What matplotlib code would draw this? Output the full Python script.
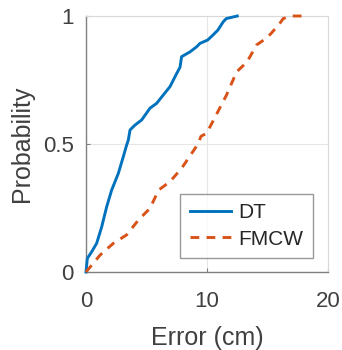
import matplotlib
matplotlib.use("Agg")
import matplotlib.pyplot as plt

dt_x = [0, 0.11, 0.47, 0.88, 1.3, 1.71, 2.12, 2.67, 3.08, 3.36, 3.5, 3.64, 4.05, 4.6, 5.29,
        5.84, 6.53, 6.94, 7.5, 7.77, 7.9, 8.6, 9.15, 9.42, 10.05, 10.5, 10.9, 11.35, 11.6, 12.5]
dt_y = [0, 0.053, 0.079, 0.112, 0.177, 0.255, 0.32, 0.385, 0.45, 0.496, 0.516, 0.555, 0.574,
        0.594, 0.64, 0.659, 0.70, 0.724, 0.776, 0.80, 0.841, 0.86, 0.88, 0.893, 0.906, 0.926,
        0.945, 0.978, 0.99, 1.0]

fm_x = [0, 1.16, 2.26, 3.36, 4.33, 5.29, 6.0, 6.94, 7.9, 8.73, 9.28, 9.5, 9.97, 10.5, 11.6,
        12.45, 13.3, 14.1, 14.9, 15.3, 16.0, 16.3, 17.0, 18.0]
fm_y = [0, 0.066, 0.112, 0.145, 0.203, 0.249, 0.32, 0.353, 0.405, 0.463, 0.502, 0.53, 0.542,
        0.59, 0.69, 0.782, 0.82, 0.887, 0.913, 0.932, 0.97, 0.99, 1.0, 1.0]

x_ticks = [0, 10, 20]
y_ticks = [0, 0.5, 1]
y_tick_labels = ["0", "0.5", "1"]

plt.rcParams['font.family'] = ['Liberation Sans', 'DejaVu Sans']

fig = plt.figure(figsize=(3.42, 3.5), dpi=100)
ax = fig.add_axes([86/342, 78/350, 242/342, 256/350])

ax.plot(dt_x, dt_y, color='#0072BD', lw=2.1, label='DT', clip_on=False, zorder=5)
ax.plot(fm_x, fm_y, color='#D95319', lw=2.1, linestyle=(0, (3, 2.5)), label='FMCW',
        clip_on=False, zorder=5)

ax.set_xlim(0, 20)
ax.set_ylim(0, 1)
ax.set_xticks(x_ticks)
ax.set_yticks(y_ticks)
ax.set_yticklabels(y_tick_labels)
ax.grid(True, color='#e6e6e6', lw=0.8)
ax.set_axisbelow(True)

for s in ['left', 'bottom']:
    ax.spines[s].set_color('#808080')
    ax.spines[s].set_linewidth(1.0)
for s in ['top', 'right']:
    ax.spines[s].set_color('#d9d9d9')
    ax.spines[s].set_linewidth(0.8)

ax.tick_params(direction='in', length=3, colors='#808080', labelcolor='#404040',
               labelsize=16)
ax.tick_params(axis='x', pad=14)
ax.tick_params(axis='y', pad=9)
ax.set_xlabel('Error (cm)', fontsize=18, color='#404040', labelpad=10)
ax.set_ylabel('Probability', fontsize=18, color='#404040', labelpad=6)

leg = ax.legend(loc='lower right', fontsize=15, frameon=True, fancybox=False,
                edgecolor='#808080', handlelength=2.0, borderpad=0.45,
                labelspacing=0.35, handletextpad=0.35, borderaxespad=0,
                bbox_to_anchor=(0.938, 0.055))
leg.get_frame().set_linewidth(1.0)
for t in leg.get_texts():
    t.set_color('#262626')

fig.savefig('out.png', dpi=100)
